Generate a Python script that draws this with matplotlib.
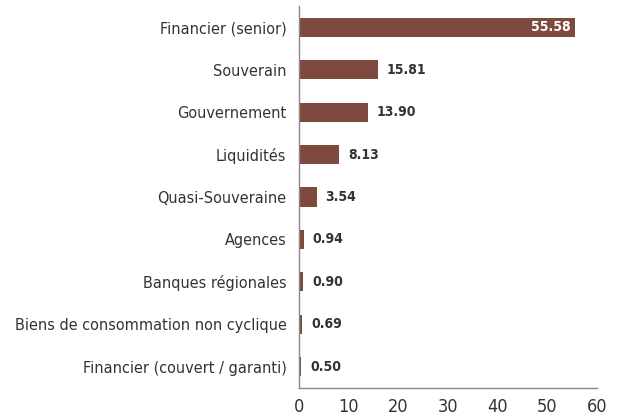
import matplotlib
matplotlib.use("Agg")
import matplotlib.pyplot as plt
from matplotlib import font_manager

# données
categories = ["Financier (senior)", "Souverain", "Gouvernement", "Liquidités",
              "Quasi-Souveraine", "Agences", "Banques régionales",
              "Biens de consommation non cyclique", "Financier (couvert / garanti)"]
values = [55.58, 15.81, 13.90, 8.13, 3.54, 0.94, 0.90, 0.69, 0.50]
xticks = [0, 10, 20, 30, 40, 50, 60]

names = {f.name for f in font_manager.fontManager.ttflist}
if "Liberation Sans Narrow" in names:
    plt.rcParams["font.family"] = ["Liberation Sans Narrow", "DejaVu Sans"]
else:
    plt.rcParams["font.family"] = ["DejaVu Sans"]
    plt.rcParams["font.stretch"] = "condensed"

bar_color = "#7e4a40"
text_color = "#333333"

fig = plt.figure(figsize=(6.19, 4.17), dpi=100)
ax = fig.add_axes([0.483, 0.0695, 0.4815, 0.916])

y = list(range(len(categories)))
ax.barh(y, values, height=0.45, color=bar_color)
ax.set_ylim(len(categories) - 0.5, -0.5)
ax.set_xlim(0, 60)
ax.set_yticks(y)
ax.set_yticklabels(categories, fontsize=11.6, color=text_color)
ax.set_xticks(xticks)
ax.set_xticklabels([str(t) for t in xticks], fontsize=13, color=text_color)
ax.tick_params(axis="y", length=0, pad=9)
ax.tick_params(axis="x", length=0, pad=7)

for i, v in enumerate(values):
    if v > 40:
        ax.text(v - 0.8, i, f"{v:.2f}", ha="right", va="center", color="white",
                fontsize=10, fontweight="bold")
    else:
        ax.text(v + 1.8, i, f"{v:.2f}", ha="left", va="center", color=text_color,
                fontsize=10, fontweight="bold")

for s in ["top", "right"]:
    ax.spines[s].set_visible(False)
for s in ["left", "bottom"]:
    ax.spines[s].set_color("#888888")
    ax.spines[s].set_linewidth(1)

fig.savefig("out.png", dpi=100)
